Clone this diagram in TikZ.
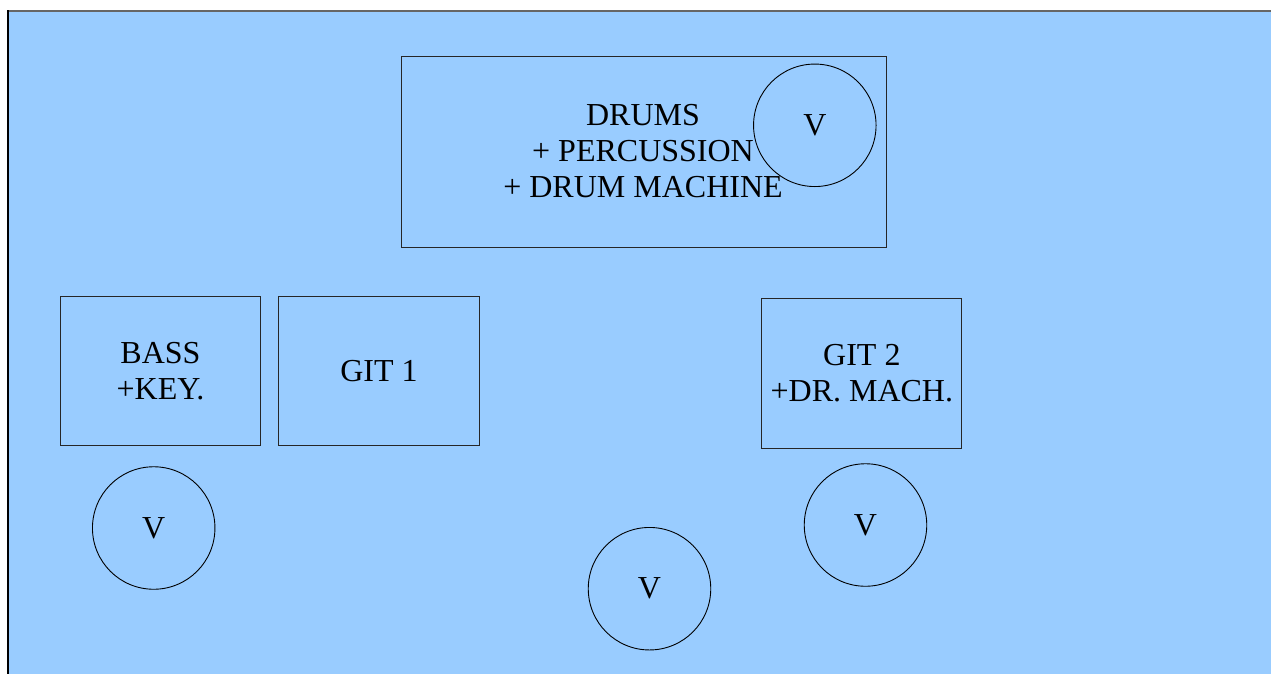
\documentclass[tikz,border=0pt]{standalone}
\usepackage{fontspec}
\setmainfont{Liberation Serif}
\definecolor{bgblue}{HTML}{99CCFF}
\begin{document}
\begin{tikzpicture}[x=1pt,y=-1pt,
  stagebox/.style={draw=black!85,line width=0.9pt,rectangle,inner sep=0pt,anchor=north west,align=center,font=\fontsize{32}{36}\selectfont},
  monitor/.style={draw=black,line width=0.9pt,circle,minimum size=122.5pt,inner sep=0pt,font=\fontsize{32}{36}\selectfont}]
\useasboundingbox (0,0) rectangle (1271,673);
\fill[bgblue] (8,10) rectangle (1275,680);
\draw[black!60,line width=1.6pt] (1275,10.8) -- (8,10.8);
\draw[black,line width=1.8pt] (8.2,10) -- (8.2,680);
% boxes
\node[stagebox,minimum width=485pt,minimum height=191.5pt] (drums) at (401.2,55.7) {};
\node[font=\fontsize{32}{36}\selectfont,align=center] (drumstxt) at (643,151) {DRUMS\\+ PERCUSSION\\+ DRUM MACHINE};
\node[stagebox,minimum width=200pt,minimum height=149.3pt] (bass) at (60,295.7) {BASS\\+KEY.};
\node[stagebox,minimum width=200.3pt,minimum height=149.3pt] (git1) at (278.4,295.7) {GIT 1};
\node[stagebox,minimum width=200pt,minimum height=149.4pt] (git2) at (761.4,298.3) {GIT 2\\+DR. MACH.};
% monitors
\node[monitor] (vdrums) at (814.8,125.3) {V};
\node[monitor] (vbass) at (153.7,528) {V};
\node[monitor] (vcenter) at (649.5,588.7) {V};
\node[monitor] (vgit2) at (865.5,525) {V};
\end{tikzpicture}
\end{document}
